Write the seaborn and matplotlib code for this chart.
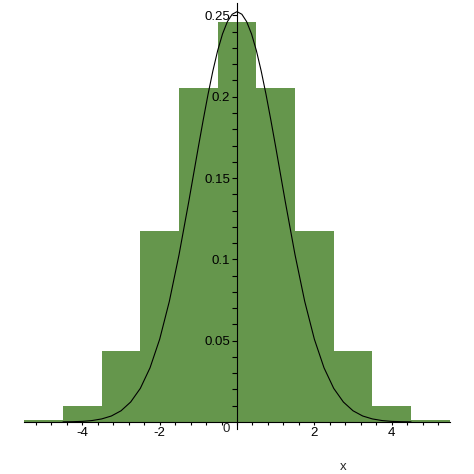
import numpy as np
import pandas as pd
import matplotlib
matplotlib.use("Agg")
import matplotlib.pyplot as plt
import seaborn as sns

# ---- data ----
bin_centers = [-5, -4, -3, -2, -1, 0, 1, 2, 3, 4, 5]
bin_heights = [0.0010, 0.0098, 0.0439, 0.1172, 0.2051, 0.2461,
               0.2051, 0.1172, 0.0439, 0.0098, 0.0010]

curve_x = [-4.5, -4.25, -4.0, -3.75, -3.5, -3.25, -3.0, -2.75, -2.5, -2.25,
           -2.0, -1.75, -1.5, -1.25, -1.0, -0.875, -0.75, -0.625, -0.5,
           -0.375, -0.25, -0.125, 0.0, 0.125, 0.25, 0.375, 0.5, 0.625, 0.75,
           0.875, 1.0, 1.25, 1.5, 1.75, 2.0, 2.25, 2.5, 2.75, 3.0, 3.25, 3.5,
           3.75, 4.0, 4.25, 4.5]
curve_y = [0.0001, 0.0002, 0.0004, 0.0009, 0.0019, 0.0037, 0.0069, 0.0123,
           0.0207, 0.0333, 0.0509, 0.0742, 0.1028, 0.1352, 0.1691, 0.1856,
           0.2014, 0.2158, 0.2284, 0.2386, 0.2461, 0.2507, 0.2523, 0.2507,
           0.2461, 0.2386, 0.2284, 0.2158, 0.2014, 0.1856, 0.1691, 0.1352,
           0.1028, 0.0742, 0.0509, 0.0333, 0.0207, 0.0123, 0.0069, 0.0037,
           0.0019, 0.0009, 0.0004, 0.0002, 0.0001]

x_tick_vals = [-4, -2, 2, 4]
x_tick_labels = ["-4", "-2", "2", "4"]
y_tick_vals = [0.05, 0.10, 0.15, 0.20, 0.25]
y_tick_labels = ["0.05", "0.1", "0.15", "0.2", "0.25"]

bar_color = "#65964C"

# ---- plot ----
sns.set_style("white")
plt.rcParams["font.family"] = ["Liberation Sans", "DejaVu Sans"]

fig = plt.figure(figsize=(4.74, 4.74), dpi=100)
ax = fig.add_axes([0.0513, 0.0949, 0.8975, 0.8994])
ax.set_axisbelow(False)

hist_df = pd.DataFrame({"x": bin_centers, "p": bin_heights})
curve_df = pd.DataFrame({"x": curve_x, "y": curve_y})

sns.histplot(data=hist_df, x="x", weights="p", binwidth=1.0,
             binrange=(-5.5, 5.5), color=bar_color, alpha=1, linewidth=0,
             ax=ax)
sns.lineplot(data=curve_df, x="x", y="y", color="black", linewidth=0.8,
             ax=ax, sort=False)

ax.set_xlim(-5.5, 5.5)
ax.set_ylim(-0.0043, 0.2578)
ax.set_xlabel("")
ax.set_ylabel("")

for s in ["top", "right"]:
    ax.spines[s].set_visible(False)
ax.spines["left"].set_position(("data", 0))
ax.spines["bottom"].set_position(("data", 0))
for s in ["left", "bottom"]:
    ax.spines[s].set_color("black")
    ax.spines[s].set_linewidth(0.8)

ax.set_xticks(x_tick_vals)
ax.set_xticklabels(x_tick_labels)
ax.set_xticks(np.round(np.arange(-5.2, 5.3, 0.4), 2), minor=True)
ax.set_yticks(y_tick_vals)
ax.set_yticklabels(y_tick_labels)
ax.set_yticks(np.round(np.arange(0.01, 0.255, 0.01), 3), minor=True)

ax.tick_params(axis="x", which="both", direction="out", length=2.2,
               width=0.8, pad=1.5, labelsize=9.5, bottom=True, colors="black")
ax.tick_params(axis="y", which="both", direction="out", length=3.4,
               width=0.8, pad=1.5, labelsize=9.5, left=True, colors="black")

ax.text(-0.27, -0.0003, "0", ha="center", va="top", fontsize=9.5, zorder=5)
fig.text(343 / 474, 1 - 467 / 474, "x", ha="center", va="center",
         fontsize=9.5)

fig.savefig("out.png", dpi=100)
